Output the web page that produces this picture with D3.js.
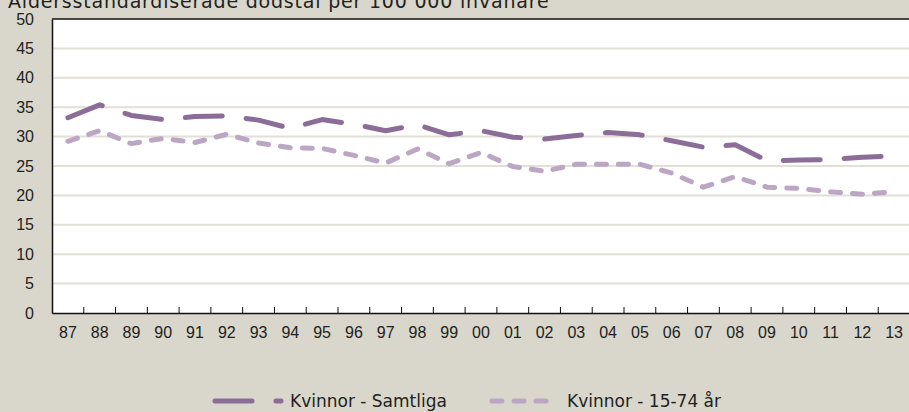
<!DOCTYPE html>
<html>
<head>
<meta charset="utf-8">
<script src="https://cdn.jsdelivr.net/npm/d3@7"></script>
<style>
  body { margin: 0; background: #d9d7cb; }
  svg { display: block; font-family: "DejaVu Sans", sans-serif; }
</style>
</head>
<body>
<div id="chart-container"></div>
<script>
/* CONSTANTS AND GLOBALS */
const width = 909,
  height = 412,
  margin = { top: 19, bottom: 99, left: 52, right: -1 };

// years (two-digit labels) on the x axis
const years = ["87", "88", "89", "90", "91", "92", "93", "94", "95", "96", "97", "98", "99",
  "00", "01", "02", "03", "04", "05", "06", "07", "08", "09", "10", "11", "12", "13"];

// Kvinnor - Samtliga
const samtliga = [33.2, 35.4, 33.6, 32.9, 33.4, 33.5, 32.8, 31.4, 32.9, 32.1, 31.0, 32.0, 30.3,
  31.0, 29.9, 29.6, 30.2, 30.7, 30.3, 29.3, 28.2, 28.6, 25.9, 26.0, 26.1, 26.5, 26.7];

// Kvinnor - 15-74 år
const aged1574 = [29.2, 31.0, 28.8, 29.7, 29.0, 30.4, 28.9, 28.1, 28.0, 26.8, 25.5, 27.9, 25.4,
  27.3, 24.9, 24.1, 25.3, 25.3, 25.3, 23.8, 21.4, 23.2, 21.4, 21.2, 20.6, 20.2, 20.6];

const yTicks = [0, 5, 10, 15, 20, 25, 30, 35, 40, 45, 50];

const title = "Åldersstandardiserade dödstal per 100 000 invånare";

const series = [
  { name: "Kvinnor - Samtliga", values: samtliga, color: "#8b6d98", dash: "37,24" },
  { name: "Kvinnor - 15-74 år", values: aged1574, color: "#bba7c4", dash: "10,12" }
];

const svg = d3.select("#chart-container")
  .append("svg")
  .attr("width", width)
  .attr("height", height);

// + SCALES
const xScale = d3.scaleBand()
  .domain(years)
  .range([margin.left, width - margin.right]);

const yScale = d3.scaleLinear()
  .domain([0, 50])
  .range([height - margin.bottom, margin.top]);

// plot background
svg.append("rect")
  .attr("x", margin.left)
  .attr("y", margin.top)
  .attr("width", width - margin.left - margin.right)
  .attr("height", height - margin.top - margin.bottom)
  .attr("fill", "white");

// gridlines
svg.append("g")
  .selectAll("line")
  .data(yTicks.filter(d => d > 0 && d < 50))
  .join("line")
  .attr("x1", margin.left)
  .attr("x2", width - margin.right)
  .attr("y1", d => yScale(d))
  .attr("y2", d => yScale(d))
  .attr("stroke", "#e2dfd5")
  .attr("stroke-width", 2);

// top border
svg.append("line")
  .attr("x1", margin.left).attr("x2", width)
  .attr("y1", yScale(50)).attr("y2", yScale(50))
  .attr("stroke", "#111").attr("stroke-width", 1.5);

// + AXES
const yAxis = d3.axisLeft(yScale)
  .tickValues(yTicks)
  .tickSize(0)
  .tickPadding(18);

svg.append("g")
  .attr("class", "yAxis")
  .attr("transform", `translate(${margin.left}, 0)`)
  .call(yAxis)
  .call(g => g.select(".domain").attr("stroke", "#111").attr("stroke-width", 1.5))
  .call(g => g.selectAll("text").attr("font-size", 16).attr("fill", "#222"));

const xAxis = d3.axisBottom(xScale).tickSize(0).tickPadding(14);

svg.append("g")
  .attr("class", "xAxis")
  .attr("transform", `translate(0, ${yScale(0)})`)
  .call(xAxis)
  .call(g => g.select(".domain").attr("stroke", "#111").attr("stroke-width", 1.5))
  .call(g => g.selectAll("text").attr("font-size", 16).attr("fill", "#222"));

// tick marks between categories, pointing up
svg.append("g")
  .selectAll("line")
  .data(years.slice(1))
  .join("line")
  .attr("x1", d => xScale(d))
  .attr("x2", d => xScale(d))
  .attr("y1", yScale(0))
  .attr("y2", yScale(0) - 6)
  .attr("stroke", "#111")
  .attr("stroke-width", 1);

// + LINES
const lineGen = d3.line()
  .x((d, i) => xScale(years[i]) + xScale.bandwidth() / 2)
  .y(d => yScale(d));

svg.selectAll(".line")
  .data(series)
  .join("path")
  .attr("class", "line")
  .attr("fill", "none")
  .attr("stroke", d => d.color)
  .attr("stroke-width", 5)
  .attr("stroke-linecap", "round")
  .attr("stroke-linejoin", "round")
  .attr("stroke-dasharray", d => d.dash)
  .attr("d", d => lineGen(d.values));

// title (partly cut off at the top, as in the original)
svg.append("text")
  .attr("x", 8)
  .attr("y", 8)
  .attr("font-size", 19)
  .attr("letter-spacing", 0.8)
  .attr("fill", "#222")
  .text(title);

// + LEGEND
const legendX = [213, 490];
const legend = svg.append("g")
  .selectAll("g")
  .data(series)
  .join("g")
  .attr("transform", (d, i) => `translate(${legendX[i]}, 401)`);

legend.append("line")
  .attr("x1", 2).attr("x2", 68)
  .attr("y1", 0).attr("y2", 0)
  .attr("stroke", d => d.color)
  .attr("stroke-width", 5)
  .attr("stroke-linecap", "round")
  .attr("stroke-dasharray", d => d.dash);

legend.append("text")
  .attr("x", 77)
  .attr("y", 6)
  .attr("font-size", 17)
  .attr("fill", "#222")
  .text(d => d.name);
</script>
</body>
</html>
